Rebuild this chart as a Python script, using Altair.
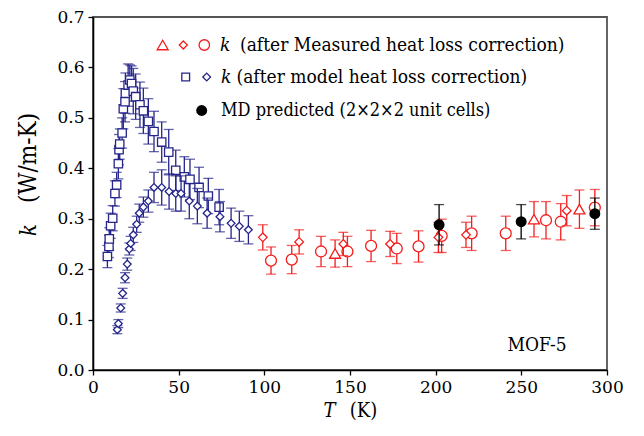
import altair as alt
import pandas as pd

# ---- data ----
# model heat loss correction: squares
sq_T = [8.4, 9.3, 9.5, 10.3, 11.5, 12.8, 13.8, 14.8, 15.2, 15.6, 17.0, 17.7, 18.7, 18.9,
        20.5, 21.5, 22.5, 23.5, 24.9, 27.4, 29.4, 32.3, 35.6, 40.1, 44.2, 48.3, 53.3,
        56.6, 61.9, 67.3, 73.6]
sq_k = [0.225, 0.245, 0.260, 0.286, 0.301, 0.350, 0.367, 0.409, 0.437, 0.448, 0.470, 0.518,
        0.532, 0.549, 0.565, 0.575, 0.568, 0.553, 0.542, 0.526, 0.514, 0.493, 0.473, 0.452,
        0.432, 0.396, 0.383, 0.378, 0.362, 0.345, 0.323]
sq_e = [0.022, 0.022, 0.022, 0.025, 0.025, 0.025, 0.025, 0.030, 0.030, 0.030, 0.030, 0.040,
        0.040, 0.040, 0.042, 0.030, 0.035, 0.045, 0.045, 0.045, 0.045, 0.045, 0.040, 0.040,
        0.045, 0.040, 0.040, 0.040, 0.040, 0.035, 0.035]

# model heat loss correction: diamonds
bd_T = [14.2, 14.8, 16.2, 17.3, 18.7, 20.0, 21.2, 22.0, 23.5, 25.5, 27.0, 29.4, 32.3, 35.6,
        40.1, 44.4, 48.3, 51.4, 56.2, 60.9, 66.6, 74.1, 80.6, 85.4, 90.7]
bd_k = [0.080, 0.092, 0.123, 0.152, 0.183, 0.210, 0.240, 0.251, 0.268, 0.289, 0.311, 0.323,
        0.335, 0.362, 0.362, 0.354, 0.350, 0.350, 0.335, 0.325, 0.311, 0.304, 0.291, 0.285,
        0.278]
bd_e = [0.008, 0.008, 0.008, 0.010, 0.010, 0.012, 0.012, 0.014, 0.015, 0.016, 0.018, 0.020,
        0.022, 0.030, 0.035, 0.035, 0.035, 0.035, 0.035, 0.035, 0.030, 0.030, 0.030, 0.030,
        0.028]

# measured heat loss correction
rt_T = [141.3, 257.4, 283.9]
rt_k = [0.231, 0.299, 0.319]
rt_e = [0.027, 0.035, 0.038]

rd_T = [99.1, 120.3, 146.1, 173.4, 201.6, 217.7, 276.5]
rd_k = [0.263, 0.254, 0.250, 0.250, 0.263, 0.268, 0.316]
rd_e = [0.025, 0.024, 0.023, 0.025, 0.030, 0.025, 0.030]

rc_T = [103.9, 116.0, 133.1, 148.5, 162.3, 177.3, 190.0, 203.5, 221.0, 240.9, 264.4, 273.0, 292.9]
rc_k = [0.217, 0.219, 0.235, 0.235, 0.246, 0.241, 0.245, 0.266, 0.271, 0.271, 0.297, 0.294, 0.322]
rc_e = [0.027, 0.028, 0.030, 0.030, 0.031, 0.030, 0.031, 0.033, 0.034, 0.034, 0.037, 0.036, 0.036]

# MD predicted
md_T = [202.0, 249.9, 292.9]
md_k = [0.288, 0.294, 0.310]
md_e = [0.040, 0.034, 0.031]

x_ticks = [0, 50, 100, 150, 200, 250, 300]
y_ticks = [0.0, 0.1, 0.2, 0.3, 0.4, 0.5, 0.6, 0.7]

RED = "#f41c1c"
BLUE = "#24248a"
FONT = "DejaVu Serif Condensed, DejaVu Serif"
AXFONT = "DejaVu Serif"

xs = alt.Scale(domain=[0, 300], nice=False)
ys = alt.Scale(domain=[0, 0.7], nice=False)


def frame(T, k, e):
    return pd.DataFrame({"T": T, "k": k, "lo": [a - b for a, b in zip(k, e)],
                         "hi": [a + b for a, b in zip(k, e)]})


def series(T, k, e, color, shape, size, filled=False, first=False):
    df = frame(T, k, e)
    base = alt.Chart(df)
    if first:
        xenc = alt.X("T:Q", scale=xs, axis=alt.Axis(values=x_ticks, title=None, labelFlush=False))
        yenc = alt.Y("k:Q", scale=ys, axis=alt.Axis(values=y_ticks, format=".1f", title=None,
                                                    labelFlush=False))
    else:
        xenc = alt.X("T:Q", scale=xs)
        yenc = alt.Y("k:Q", scale=ys)
    rule = base.mark_rule(color=color, strokeWidth=1.3).encode(
        x=xenc, y=alt.Y("lo:Q", scale=ys), y2="hi:Q")
    cap_lo = base.mark_tick(color=color, orient="horizontal", size=10, thickness=1.3).encode(
        x="T:Q", y=alt.Y("lo:Q", scale=ys))
    cap_hi = base.mark_tick(color=color, orient="horizontal", size=10, thickness=1.3).encode(
        x="T:Q", y=alt.Y("hi:Q", scale=ys))
    if filled:
        pts = base.mark_point(shape=shape, size=size, filled=True, color=color, opacity=1).encode(
            x="T:Q", y=yenc)
    else:
        pts = base.mark_point(shape=shape, size=size, filled=True, fill="white", stroke=color,
                              strokeWidth=1.3, opacity=1).encode(x="T:Q", y=yenc)
    return [rule, cap_lo, cap_hi, pts]


layers = []
layers += series(rc_T, rc_k, rc_e, RED, "circle", 120, first=True)
layers += series(rd_T, rd_k, rd_e, RED, "diamond", 75)
layers += series(rt_T, rt_k, rt_e, RED, "triangle-up", 120)
layers += series(sq_T, sq_k, sq_e, BLUE, "square", 70)
layers += series(bd_T, bd_k, bd_e, BLUE, "diamond", 60)
layers += series(md_T, md_k, md_e, "black", "circle", 120, filled=True)

one = pd.DataFrame({"a": [0]})


def sym(x, y, shape, size, color, filled=False):
    if filled:
        m = alt.Chart(one).mark_point(shape=shape, size=size, filled=True, color=color, opacity=1)
    else:
        m = alt.Chart(one).mark_point(shape=shape, size=size, filled=True, fill="white",
                                      stroke=color, strokeWidth=1.3, opacity=1)
    return m.encode(x=alt.value(x), y=alt.value(y))


def txt(x, y, s, size=19, italic=False, align="left", angle=0):
    kw = dict(font=FONT, fontSize=size, color="black", align=align, baseline="middle")
    if italic:
        kw["fontStyle"] = "italic"
    if angle:
        kw["angle"] = angle
    return alt.Chart(one).mark_text(text=s, **kw).encode(x=alt.value(x), y=alt.value(y))


# legend
layers += [
    sym(69.7, 28, "triangle-up", 120, RED),
    sym(90.3, 28, "diamond", 65, RED),
    sym(111.3, 28, "circle", 110, RED),
    txt(127, 28, "k", italic=True),
    txt(147, 28, "(after Measured heat loss correction)"),
    sym(92.7, 60, "square", 60, BLUE),
    sym(113.7, 60, "diamond", 60, BLUE),
    txt(128, 60, "k", italic=True),
    txt(143.5, 60, "(after model heat loss correction)"),
    sym(108.7, 93.5, "circle", 120, "black", filled=True),
    txt(128, 93.5, "MD predicted (2\u00d72\u00d72 unit cells)", size=18),
    txt(444, 328, "MOF-5", size=19, align="center"),
    # axis titles
    txt(-64, 213, "k", size=22, italic=True, align="center", angle=270),
    txt(-64, 141, "(W/m-K)", size=24, align="center", angle=270),
    txt(236.5, 394, "T", size=20, italic=True, align="center"),
    txt(270.5, 394, "(K)", size=20, align="center"),
]

chart = alt.layer(*layers).properties(
    width=514, height=353,
    autosize=alt.AutoSizeParams(type="none"),
    padding={"left": 85, "top": 9, "right": 29, "bottom": 58},
).configure_view(
    stroke="#555555", strokeWidth=1.8
).configure_axis(
    labelFont=AXFONT, labelFontSize=17, labelColor="black", tickColor="black",
    domainColor="black", domainWidth=1.6, tickWidth=1.3, tickSize=5, labelPadding=4,
    grid=False, zindex=1
)

chart.save("out.html", embed_options={"renderer": "svg", "actions": False})
